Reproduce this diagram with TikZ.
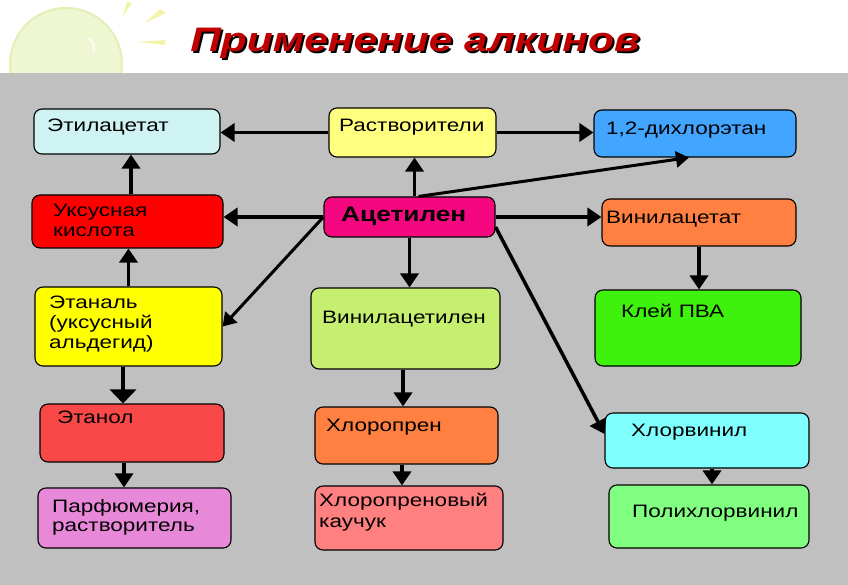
\documentclass[tikz,border=0pt]{standalone}
\usepackage{fontspec}
\setmainfont{Liberation Sans}[FakeStretch=1.25]
\usetikzlibrary{arrows.meta,fit}
\definecolor{bggray}{HTML}{C0C0C0}
\definecolor{cEtil}{HTML}{CFF3F3}
\definecolor{cRast}{HTML}{FFFF80}
\definecolor{cDich}{HTML}{42A5FF}
\definecolor{cUks}{HTML}{FF0000}
\definecolor{cAcet}{HTML}{F5087F}
\definecolor{cVac}{HTML}{FF8040}
\definecolor{cEtal}{HTML}{FFFF00}
\definecolor{cVinac}{HTML}{C6EF70}
\definecolor{cKlei}{HTML}{3EF20E}
\definecolor{cEtan}{HTML}{F84848}
\definecolor{cChlp}{HTML}{FF8040}
\definecolor{cChlv}{HTML}{80FFFF}
\definecolor{cParf}{HTML}{E888D8}
\definecolor{cKauch}{HTML}{FF8080}
\definecolor{cPchv}{HTML}{80FF80}
\definecolor{titlered}{HTML}{BE0000}
\definecolor{sunfill}{HTML}{EFF7D2}
\definecolor{sunedge}{HTML}{E2F0B8}
\definecolor{sunray}{HTML}{F4F4A8}
\begin{document}
\begin{tikzpicture}[x=1pt,y=-1pt,
  box/.style={draw=black, line width=1.1pt, rounded corners=8pt, inner sep=0pt},
  txt/.style={anchor=base west, inner sep=0pt, font=\fontsize{18}{20}\selectfont},
  arr/.style={line width=3.5pt, -{Triangle[length=14pt,width=18pt]}},
  arrs/.style={line width=3pt, -{Triangle[length=13pt,width=16pt]}}]
\useasboundingbox (0,0) rectangle (848,585);
% sun decoration
\fill[white] (0,0) rectangle (848,73);
\filldraw[fill=sunfill, draw=sunedge, line width=2pt] (66,64) circle (56);
\draw[white, line width=3pt, opacity=0.6] (88,38) arc (-60:20:12);
\fill[sunray] (122,17) -- (127,2) -- (132,3) -- cycle;
\fill[sunray] (145,23) -- (160,9) -- (166,13) -- cycle;
\fill[sunray] (138,42) -- (165,40) -- (165,45) -- cycle;
% gray panel
\fill[bggray] (0,73) rectangle (848,585);
% title with shadow
\node[anchor=base, inner sep=0pt, font=\fontsize{34}{40}\selectfont\bfseries\itshape] (title) at (415,52)
  {\makebox[0pt][l]{\hspace*{2pt}\raisebox{-2pt}{\color{black}Применение алкинов}}\textcolor{titlered}{Применение алкинов}};
% boxes
\node[box, fill=cEtil,  fit={(34,109)(220,154)}] (etil) {};
\node[box, fill=cRast,  fit={(329,108)(496,157)}] (rast) {};
\node[box, fill=cDich,  fit={(594,110)(796,157)}] (dich) {};
\node[box, fill=cUks,   fit={(32,195)(223,248)}] (uks) {};
\node[box, fill=cAcet,  fit={(324,197)(495,237)}] (acet) {};
\node[box, fill=cVac,   fit={(602,199)(796,246)}] (vac) {};
\node[box, fill=cEtal,  fit={(35,287)(222,366)}] (etal) {};
\node[box, fill=cVinac, fit={(311,288)(500,369)}] (vinac) {};
\node[box, fill=cKlei,  fit={(595,290)(801,366)}] (klei) {};
\node[box, fill=cEtan,  fit={(40,404)(224,462)}] (etan) {};
\node[box, fill=cChlp,  fit={(315,407)(498,464)}] (chlp) {};
\node[box, fill=cChlv,  fit={(605,413)(809,468)}] (chlv) {};
\node[box, fill=cParf,  fit={(38,488)(231,548)}] (parf) {};
\node[box, fill=cKauch, fit={(315,486)(503,550)}] (kauch) {};
\node[box, fill=cPchv,  fit={(609,485)(809,548)}] (pchv) {};
% texts
\node[txt] (etilT) at (47,132) {Этилацетат};
\node[txt] (rastT) at (339,132) {Растворители};
\node[txt] (dichT) at (606,135) {1,2-дихлорэтан};
\node[txt] (uksT1) at (53,217) {Уксусная};
\node[txt] (uksT2) at (53,237) {кислота};
\node[txt, font=\fontsize{21}{24}\selectfont\bfseries] (acetT) at (341,222) {Ацетилен};
\node[txt] (vacT) at (606,224) {Винилацетат};
\node[txt] (etalT1) at (49,308) {Этаналь};
\node[txt] (etalT2) at (49,328) {(уксусный};
\node[txt] (etalT3) at (49,348) {альдегид)};
\node[txt] (vinacT) at (322,323) {Винилацетилен};
\node[txt] (kleiT) at (621,317) {Клей ПВА};
\node[txt] (etanT) at (57,423) {Этанол};
\node[txt] (chlpT) at (326,431) {Хлоропрен};
\node[txt] (chlvT) at (631,436) {Хлорвинил};
\node[txt] (parfT1) at (52,512) {Парфюмерия,};
\node[txt] (parfT2) at (52,531) {растворитель};
\node[txt] (kauchT1) at (319,506) {Хлоропреновый};
\node[txt] (kauchT2) at (319,527) {каучук};
\node[txt] (pchvT) at (632,517) {Полихлорвинил};
% arrows
\draw[arr] (rast.west) -- (rast.west -| etil.east);
\draw[arr] (rast.east) -- (rast.east -| dich.west);
\draw[arr] ([xshift=5pt]acet.north) -- ([xshift=5pt]acet.north |- rast.south);
\draw[arrs] ([xshift=9pt]acet.north) -- ([xshift=-6pt]dich.south);
\draw[arr] (acet.west) -- (acet.west -| uks.east);
\draw[arrs] (acet.west) -- (etal.east);
\draw[arr] (acet.east) -- (acet.east -| vac.west);
\draw[arr] (acet.south) -- (acet.south |- vinac.north);
\draw[arr] ([yshift=-10pt]acet.east) -- ([yshift=6.5pt]chlv.west);
\draw[arr] ([xshift=3.5pt]uks.north) -- ([xshift=3.5pt]uks.north |- etil.south);
\draw[arr] (etal.north) -- (etal.north |- uks.south);
\draw[arr, -{Triangle[length=14pt,width=26pt]}] ([xshift=-5.5pt]etal.south) -- ([xshift=-5.5pt]etal.south |- etan.north);
\draw[arr] ([xshift=-8pt]etan.south) -- ([xshift=-8pt]etan.south |- parf.north);
\draw[arr] ([xshift=-2.5pt]vinac.south) -- ([xshift=-2.5pt]vinac.south |- chlp.north);
\draw[arr] ([xshift=-4.5pt]chlp.south) -- ([xshift=-4.5pt]chlp.south |- kauch.north);
\draw[arr] (vac.south) -- (vac.south |- klei.north);
\draw[arr] ([xshift=5pt]chlv.south) -- ([xshift=5pt]chlv.south |- pchv.north);
\end{tikzpicture}
\end{document}
